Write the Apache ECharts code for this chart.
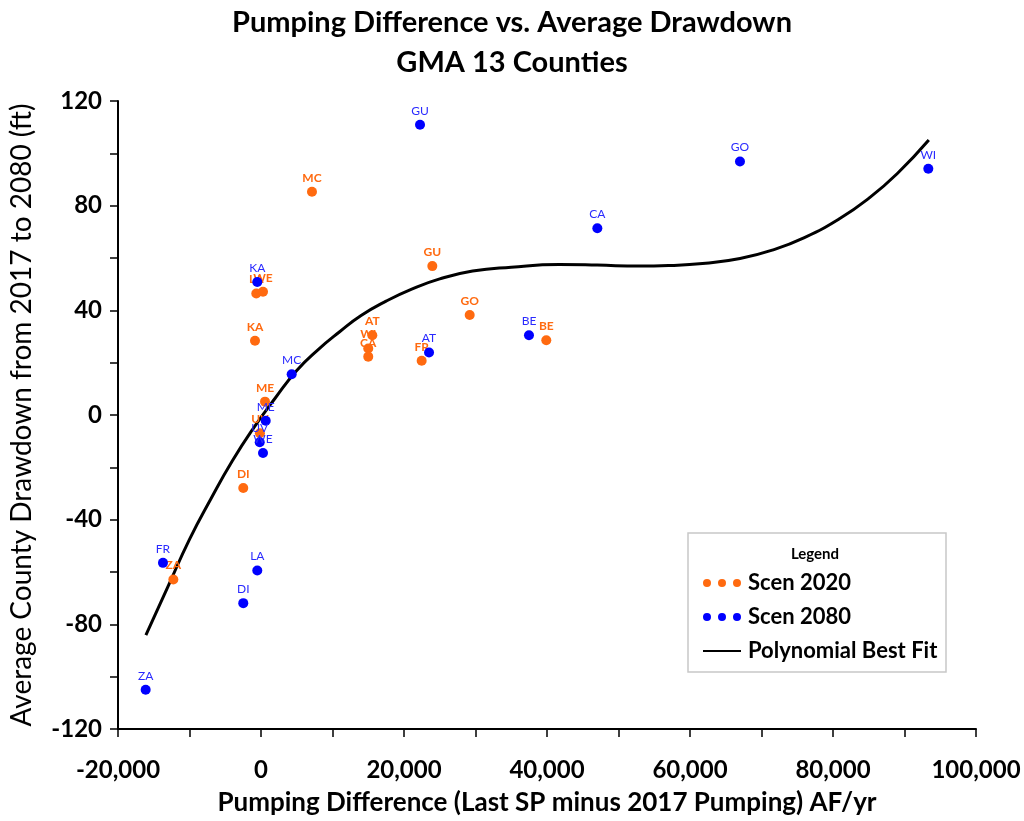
<!DOCTYPE html>
<html>
<head>
<meta charset="utf-8">
<script src="https://cdn.jsdelivr.net/npm/echarts@6/dist/echarts.min.js"></script>
<style>
  html, body { margin: 0; padding: 0; background: #ffffff; }
  #chart { width: 1024px; height: 821px; }
</style>
</head>
<body>
<div id="chart"></div>
<script>
// Scenario 2020: county code, pumping difference (AF/yr), average drawdown (ft)
const counties2020 = ['MC', 'GU', 'LA', 'WE', 'KA', 'GO', 'BE', 'AT', 'WI', 'CA', 'FR', 'ME', 'UV', 'DI', 'ZA'];
const pumping2020 = [7130, 23960, -660, 280, -840, 29190, 39900, 15570, 15000, 15000, 22470, 560, -150, -2480, -12260];
const drawdown2020 = [85.3, 56.9, 46.4, 47.1, 28.4, 38.2, 28.6, 30.5, 25.4, 22.3, 20.7, 5.1, -7.0, -27.9, -62.9];

// Scenario 2080
const counties2080 = ['GU', 'GO', 'WI', 'CA', 'KA', 'BE', 'AT', 'MC', 'ME', 'UV', 'WE', 'FR', 'LA', 'DI', 'ZA'];
const pumping2080 = [22240, 66990, 93330, 47040, -520, 37480, 23500, 4290, 660, -180, 280, -13710, -520, -2480, -16130];
const drawdown2080 = [110.9, 96.9, 94.1, 71.4, 50.8, 30.5, 23.9, 15.6, -2.2, -10.4, -14.5, -56.5, -59.4, -71.9, -105.0];

// Polynomial best-fit curve, sampled along its length
const fitX = [-16100, -13000, -10000, -7000, -4000, -1000, 2000, 5000, 8000, 11000, 14000, 17500, 21000, 25000,
              29600, 35000, 41700, 47000, 52900, 57000, 62200, 67000, 71500, 76000, 80900, 85000, 89000, 93400];
const fitY = [-84.1, -65.5, -47.5, -32.0, -17.5, -4.8, 6.5, 17.0, 25.0, 31.8, 38.0, 43.5, 48.0, 52.0,
              55.0, 56.5, 57.5, 57.3, 56.9, 57.1, 58.0, 59.8, 63.0, 67.8, 75.0, 82.8, 92.3, 105.1];

// Axis ticks
const xTicks = [-20000, 0, 20000, 40000, 60000, 80000, 100000];
const yTicks = [-120, -80, -40, 0, 40, 80, 120];

const ORANGE = '#ff6a10';
const BLUE = '#0000ff';
const FONT = 'Lato, "Open Sans", sans-serif';

function points(xs, ys, names) {
  return xs.map((x, i) => ({ name: names ? names[i] : '', value: [x, ys[i]] }));
}

const fmtThousands = v => {
  const s = Math.abs(v).toString().replace(/\B(?=(\d{3})+(?!\d))/g, ',');
  return (v < 0 ? '-' : '') + s;
};

const dotsIcon = 'path://M0,4a4,4 0 1,0 8,0a4,4 0 1,0 -8,0Z M15,4a4,4 0 1,0 8,0a4,4 0 1,0 -8,0Z M30,4a4,4 0 1,0 8,0a4,4 0 1,0 -8,0Z';

const chart = echarts.init(document.getElementById('chart'), null, { renderer: 'canvas' });

chart.setOption({
  animation: false,
  backgroundColor: '#ffffff',
  textStyle: { fontFamily: FONT },
  title: {
    text: 'Pumping Difference vs. Average Drawdown\nGMA 13 Counties',
    left: 'center',
    top: -2,
    textStyle: { fontFamily: FONT, fontSize: 29, fontWeight: 'bold', color: '#000', lineHeight: 40 }
  },
  grid: { left: 118, right: 48, top: 101, bottom: 90, containLabel: false },
  xAxis: {
    type: 'value',
    min: xTicks[0],
    max: xTicks[xTicks.length - 1],
    interval: 20000,
    name: 'Pumping Difference (Last SP minus 2017 Pumping) AF/yr',
    nameLocation: 'middle',
    nameGap: 61,
    nameTextStyle: { fontFamily: FONT, fontSize: 26, fontWeight: 'bold', color: '#000' },
    axisLine: { onZero: false, lineStyle: { color: '#000', width: 2 } },
    axisTick: { show: true, inside: false, length: 8, lineStyle: { color: '#000', width: 1.5 } },
    minorTick: { show: true, splitNumber: 2, length: 8, lineStyle: { color: '#000', width: 1.5 } },
    axisLabel: { formatter: fmtThousands, margin: 29, fontFamily: FONT, fontSize: 24, fontWeight: 'bold', color: '#000' },
    splitLine: { show: false }
  },
  yAxis: {
    type: 'value',
    min: yTicks[0],
    max: yTicks[yTicks.length - 1],
    interval: 40,
    name: 'Average County Drawdown from 2017 to 2080 (ft)',
    nameLocation: 'middle',
    nameGap: 82,
    nameTextStyle: { fontFamily: FONT, fontSize: 28, color: '#000' },
    axisLine: { onZero: false, lineStyle: { color: '#000', width: 2 } },
    axisTick: { show: true, inside: false, length: 8, lineStyle: { color: '#000', width: 1.5 } },
    minorTick: { show: true, splitNumber: 2, length: 8, lineStyle: { color: '#000', width: 1.5 } },
    axisLabel: { margin: 16, fontFamily: FONT, fontSize: 24, fontWeight: 'bold', color: '#000' },
    splitLine: { show: false }
  },
  legend: {
    orient: 'vertical',
    left: 697,
    top: 566,
    itemWidth: 38,
    itemHeight: 8,
    itemGap: 10,
    selectedMode: false,
    textStyle: { fontFamily: FONT, fontSize: 22, fontWeight: 'bold', color: '#000', lineHeight: 24, padding: [0, 0, 0, 2] },
    data: [
      { name: 'Scen 2020', icon: dotsIcon },
      { name: 'Scen 2080', icon: dotsIcon },
      { name: 'Polynomial Best Fit', itemStyle: { opacity: 0 } }
    ]
  },
  graphic: [
    {
      type: 'rect',
      z: 0,
      shape: { x: 688, y: 533, width: 258, height: 139 },
      style: { fill: '#ffffff', stroke: '#c8c8c8', lineWidth: 1.5 }
    },
    {
      type: 'text',
      z: 1,
      x: 815,
      y: 554,
      style: { text: 'Legend', fill: '#000', font: 'bold 15px ' + FONT, align: 'center', verticalAlign: 'middle' }
    }
  ],
  series: [
    {
      name: 'Polynomial Best Fit',
      type: 'line',
      data: points(fitX, fitY),
      smooth: true,
      symbol: 'none',
      lineStyle: { color: '#000', width: 3 },
      itemStyle: { color: '#000' },
      z: 3
    },
    {
      name: 'Scen 2020',
      type: 'scatter',
      data: points(pumping2020, drawdown2020, counties2020),
      symbolSize: 10,
      itemStyle: { color: ORANGE, opacity: 1 },
      label: {
        show: true, position: 'top', distance: 3,
        formatter: p => p.name,
        fontFamily: FONT, fontSize: 12, fontWeight: 'bold', color: ORANGE
      },
      z: 4
    },
    {
      name: 'Scen 2080',
      type: 'scatter',
      data: points(pumping2080, drawdown2080, counties2080),
      symbolSize: 10,
      itemStyle: { color: BLUE, opacity: 1 },
      label: {
        show: true, position: 'top', distance: 3,
        formatter: p => p.name,
        fontFamily: FONT, fontSize: 12, color: '#2a2aff'
      },
      z: 5
    }
  ]
});
</script>
</body>
</html>
